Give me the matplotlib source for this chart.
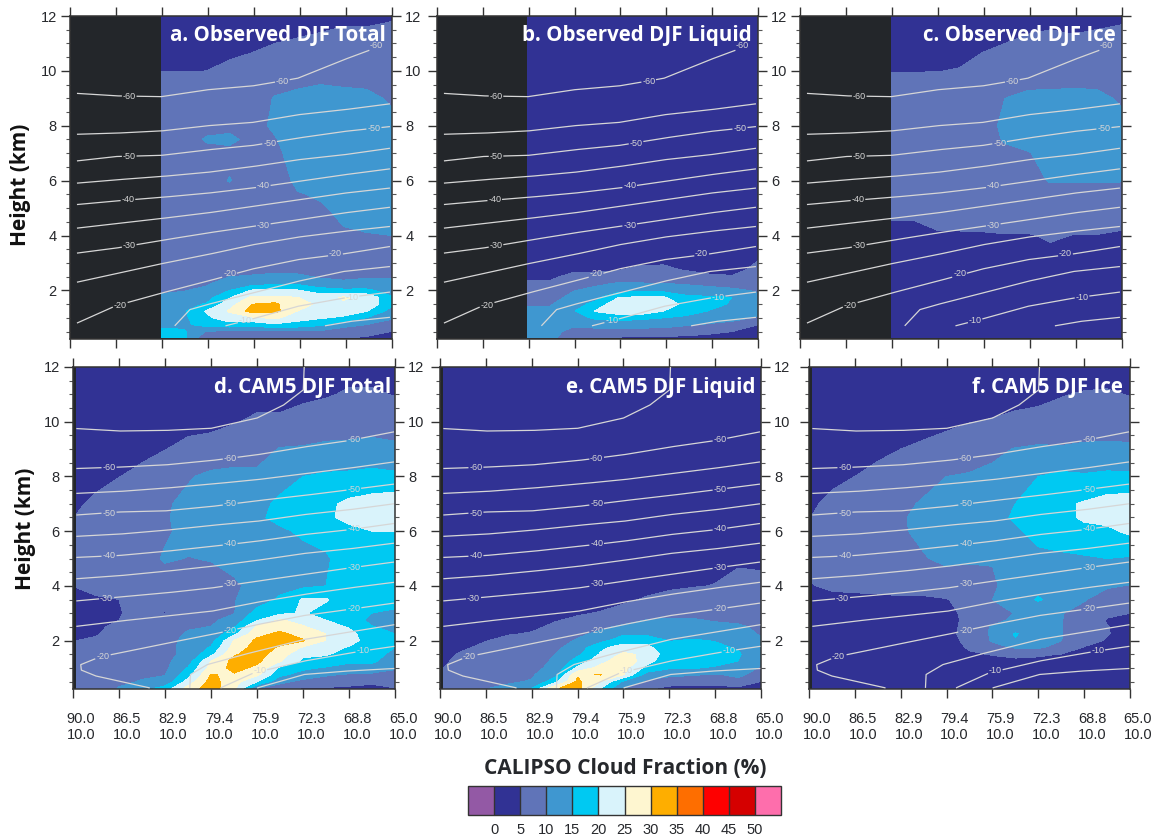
# CALIPSO vs CAM5 DJF cloud fraction cross sections, 6 panels + colour bar

import numpy as np
import matplotlib
matplotlib.use('Agg')
import matplotlib.pyplot as plt
from matplotlib.colors import ListedColormap, BoundaryNorm
from matplotlib.cm import ScalarMappable
from matplotlib.transforms import ScaledTranslation

LEVELS = [0, 5, 10, 15, 20, 25, 30, 35, 40, 45, 50]
COLORS = ['#9359a5', '#313294', '#6074b8', '#3f97d0', '#00c9f2', '#d9f3fb',
          '#fef6d0', '#feae00', '#fe6e00', '#fe0000', '#d50000', '#fe6eac']
XTICK_LABELS = ['90.0\n10.0', '86.5\n10.0', '82.9\n10.0', '79.4\n10.0',
                '75.9\n10.0', '72.3\n10.0', '68.8\n10.0', '65.0\n10.0']

# observed grid: one row per latitude column, one value per height
OBS_LAT = [82.93, 81.14, 79.38, 77.62, 75.85, 74.09, 72.33, 70.57, 68.78, 67.02, 65.0]
OBS_H = [.27, .5, .75, 1, 1.25, 1.5, 1.75, 2, 2.25, 2.5, 2.75, 3, 4, 5, 5.5, 6, 7, 7.5, 8, 9, 10, 11, 12]

OBS_TOTAL = [
    [17, 16, 14, 13, 13, 12, 11, 9, 8, 8, 8, 8, 8, 8, 8, 8, 8, 8, 8, 8, 4.9, 3, 3],
    [16, 15.5, 14, 14, 14.5, 13, 11.5, 9.8, 8.5, 8, 8, 8, 8, 8, 8, 8, 8, 8, 8, 8, 4.9, 3, 3],
    [6, 9.5, 17, 19, 20.5, 15.5, 13, 11, 9.5, 8.5, 8, 8, 8, 8, 8, 8, 8.5, 10.5, 8.5, 8, 5, 3.2, 3],
    [5.5, 9, 18, 23, 25.5, 23, 19.5, 15, 12, 10, 8.5, 8.5, 8, 8, 8.5, 10.2, 9, 10.8, 9, 8, 6, 3.5, 3],
    [5.5, 9, 17, 24, 32, 30, 26, 20.5, 13, 10.5, 8.5, 8.5, 8, 8, 8, 8, 8.5, 9, 9, 8.5, 7, 4, 3],
    [5, 9, 19, 26, 31.5, 31, 26, 20.5, 14, 11, 9, 8.5, 8, 8, 8, 7.5, 9.2, 9.8, 10.5, 10.2, 8, 5, 3],
    [5.2, 9, 18, 22, 25, 26, 25, 20.5, 14, 11, 8.5, 8.5, 8, 8.5, 9.7, 11, 11.5, 11.5, 12, 11, 8, 5.5, 3],
    [5, 9, 16, 20.5, 23, 24.5, 23, 17, 12, 9.5, 8.5, 8.5, 8.5, 9.5, 10.5, 11.5, 12, 12, 12, 11.5, 8.5, 6, 3.5],
    [5, 8.5, 11, 19, 23, 24.5, 25.5, 16, 11, 9, 8.5, 8.5, 9.5, 11, 12, 13, 12, 12, 12, 11, 8.5, 6.5, 4],
    [4.5, 7, 10, 15, 20.5, 24, 24, 16, 11.5, 9.5, 8.5, 8.5, 9.8, 11.5, 12.5, 13.5, 12.5, 12, 12, 11, 8, 6.5, 4],
    [4, 4.9, 8, 10.5, 13, 16, 15.5, 13, 10.5, 9.8, 9, 9, 10, 12, 13, 14.9, 12, 11.5, 11, 9.5, 8, 7, 4.5],
]

OBS_LIQUID = [
    [12, 12, 12, 12, 11, 9.5, 8, 7, 5.5, 4.5, 3.5, 3] + [3] * 11,
    [12, 12, 12, 12, 10.8, 9.7, 8, 7, 5.5, 4.5, 3.5, 3] + [3] * 11,
    [4.8, 8, 11, 12.5, 14.5, 13, 11.5, 9.8, 7.5, 5.8, 4.5, 3] + [3] * 11,
    [4.5, 8.5, 11.5, 16, 20.5, 16.5, 13.5, 11.5, 9, 6, 4.5, 3.5] + [3] * 11,
    [4.5, 8.5, 12, 17, 23, 24, 20, 13, 10.5, 7, 4.8, 3.5] + [3] * 11,
    [4, 8, 12, 16, 24, 24.5, 20.5, 14, 10.2, 8, 6, 4.5] + [3] * 11,
    [4, 8, 11.5, 15, 20, 24, 20.5, 13.5, 10.1, 7, 5.5, 4.8] + [3] * 11,
    [4, 7, 10.5, 14, 17, 18, 16, 12.5, 9.5, 6.5, 4.8, 3.5] + [3] * 11,
    [3.5, 6, 9.5, 12.5, 14.8, 16.5, 15.5, 12, 8.5, 5.5, 4.2, 3.5] + [3] * 11,
    [3, 5, 8.5, 11.5, 13, 14.5, 15, 11, 8, 5.2, 4.2, 3.5] + [3] * 11,
    [3, 3.5, 5, 9.5, 11.5, 12, 11, 9.5, 7.5, 6.5, 5.7, 5.2] + [3] * 11,
]

OBS_ICE = [
    [3] * 11 + [3.5, 3.8, 6, 7, 7, 7, 7, 7, 7, 4.9, 3, 3],
    [3] * 11 + [3.5, 3.8, 6, 7, 7, 7, 7, 7, 7, 4.9, 3, 3],
    [3] * 11 + [3.5, 4.5, 7, 7.5, 7.5, 7.5, 7.5, 8, 8, 4.9, 3, 3],
    [3] * 11 + [3.5, 4.6, 7, 7.5, 8, 8, 8, 8.5, 8.5, 5.2, 3.5, 3],
    [3] * 11 + [3.5, 4.6, 7.5, 8, 8, 8.5, 9, 9, 9, 6, 4.5, 3],
    [3] * 11 + [3.5, 4.8, 8, 8, 8, 9.5, 10.2, 10.5, 10, 7, 5, 3.5],
    [3] * 11 + [3.5, 4.7, 8, 8.5, 9, 9.8, 11, 11.5, 10.8, 8, 5.5, 4],
    [3] * 11 + [3.5, 5.5, 8, 9, 10.2, 11, 11.5, 12, 11, 8, 6, 4],
    [3] * 11 + [3.5, 4.9, 8, 9, 10.2, 11.5, 12, 12, 10.8, 8.5, 5.5, 4],
    [3] * 11 + [3.5, 4.9, 8, 9, 10.2, 12, 12, 12, 11, 8, 6, 4],
    [3] * 11 + [3.5, 4.4, 7.5, 9, 10.1, 12, 11.5, 11, 9.5, 8, 6.5, 4.3],
]

# model grid
CAM_LAT = [89.75, 88.21, 86.43, 84.64, 82.86, 81.07, 79.29, 77.5,
           75.71, 73.93, 72.14, 70.36, 68.57, 66.79, 65.0]
CAM_H = [.25, .5, .75, 1, 1.25, 1.5, 1.75, 2, 2.25, 2.5, 2.75, 3, 3.5, 4, 5, 6, 6.5, 7, 8, 9, 10, 11, 12]

CAM_TOTAL = [
    [5.5, 6, 6, 6, 6, 6, 5.5, 5, 4.5, 4.2, 4, 4, 4.3, 5.1, 6.5, 6, 5.2, 4.3, 3, 3, 3, 3, 3],
    [6, 6.5, 7, 7, 7, 6.5, 6, 5.3, 4.8, 4.4, 4.2, 4.2, 4.6, 6, 7, 7.5, 7, 6, 3.5, 3, 3, 3, 3],
    [10.5, 8.5, 7.5, 7, 7, 7, 7, 6.5, 6, 5.8, 5, 4.8, 5, 6.5, 7.5, 8, 8, 8, 4.9, 3.5, 3, 3, 3],
    [13, 10.5, 9, 8, 8, 8, 8, 8, 7.5, 7, 6.5, 6, 6.5, 7.5, 8.5, 9, 9, 8.5, 6, 4, 3.5, 3, 3],
    [17, 11.5, 9.8, 9, 9, 9, 9, 8.5, 8, 7.5, 7, 4.7, 7, 8, 10.4, 9.5, 9.7, 9.5, 7.5, 4.9, 3.5, 3, 3],
    [27, 22, 18, 15.3, 12.5, 11, 11, 11.2, 10.5, 9.5, 8.5, 8, 8, 8.5, 9.9, 11, 11, 11, 9.6, 6, 3.8, 3, 3],
    [33, 32, 30.2, 27, 25, 18.5, 15.5, 13, 11, 10.1, 9, 8.5, 8.5, 8.5, 10.2, 12, 12, 12, 11, 6.5, 4, 3.3, 3],
    [26, 27, 29.5, 31.5, 31.5, 29.5, 27, 25.3, 18.5, 14.5, 12, 9.8, 9.8, 9.5, 11, 13, 13, 13, 11.5, 7, 4.8, 3.5, 3],
    [10, 20, 26, 29, 31, 32, 32, 31, 28.5, 26, 19.5, 17, 12, 11, 12, 14, 14.5, 13.5, 11, 8, 5.5, 4, 3],
    [7, 11.5, 16, 19, 25.5, 27.5, 29.5, 31.5, 31, 28, 25.5, 19, 16, 13, 12.5, 14.5, 15.8, 16, 13, 10.3, 5.5, 4, 3],
    [4.5, 8.5, 13, 16, 19, 21, 24.5, 30.5, 28, 25.5, 23, 20.5, 20.5, 14, 14, 15.5, 17.5, 18, 15, 10.5, 6.5, 4.2, 3],
    [4.5, 8, 10.5, 14.5, 18, 20.5, 22.5, 24.8, 25, 22.5, 20, 18, 20.5, 15, 14.5, 16.5, 19, 19, 15.7, 11, 7.5, 4.6, 3],
    [4, 7, 9.5, 13, 16, 18, 19.5, 22.5, 22, 19.5, 17, 16, 16, 16, 17, 18.5, 21.5, 21, 16, 11, 8, 5.5, 3.5],
    [3.5, 6, 9, 13, 16, 17, 18, 17, 16, 15.2, 14, 15, 17, 17, 18, 20, 23, 22, 16.5, 11.5, 8, 5.5, 3.5],
    [4.9, 6, 8.5, 10.5, 12, 13.5, 15, 15.5, 15, 14, 13, 14.5, 16, 17, 18, 20, 23, 23, 16, 10.8, 8, 4.8, 3],
]

CAM_LIQUID = [
    [5.2, 5.2, 5.1, 5, 4.5, 4, 3.5, 3, 3, 3, 3, 3] + [3] * 11,
    [6, 6.5, 6.5, 6.5, 6, 5.5, 4.5, 4, 3.5, 3, 3, 3] + [3] * 11,
    [9.9, 8, 7.5, 7, 7, 6.5, 5.8, 4.9, 4, 3.5, 3, 3] + [3] * 11,
    [11, 9.5, 8, 8, 7.5, 7, 6.5, 5.8, 4.8, 4.2, 3.5, 3] + [3] * 11,
    [15, 10.3, 9.5, 9, 8.5, 8, 7.5, 6.5, 5.2, 4.5, 4, 3.5] + [3] * 11,
    [29.5, 18, 13, 11, 10.5, 10, 9, 8, 7, 5.5, 4.8, 4] + [3] * 11,
    [32, 31, 29.5, 21, 17, 14, 12, 10.5, 9, 7, 5.5, 4.7, 3.5] + [3] * 10,
    [20, 25, 30.2, 27, 23, 20.5, 19, 13.5, 11, 9, 7, 5.2, 3.8] + [3] * 10,
    [10, 14, 25, 27, 29, 26, 22, 18, 14, 11, 8, 6, 4.5, 3.5] + [3] * 9,
    [5.5, 9, 13, 18.5, 22, 24, 21.5, 18, 14, 12, 10.1, 8, 5.3, 4] + [3] * 9,
    [4.2, 6.5, 11.5, 15.5, 16.5, 17, 16, 14.8, 13, 12, 10.5, 8.5, 6, 4.5] + [3] * 9,
    [4, 6, 10.5, 15.3, 16.5, 17, 16.5, 15.5, 13, 12, 10.5, 8.5, 6.5, 4.8] + [3] * 9,
    [4, 6, 9.5, 14.5, 16.5, 17, 16, 14.8, 13, 11.5, 9.5, 8, 7, 5.1, 4] + [3] * 8,
    [4, 8.5, 11, 13, 15, 15.5, 14.5, 13, 12, 10.8, 9, 8, 7, 6.5, 4.2] + [3] * 8,
    [4, 4.9, 8, 9.5, 11, 12, 12, 10.8, 9.5, 9, 8, 7.5, 7, 6, 4.2] + [3] * 8,
]

CAM_ICE = [
    [3] * 12 + [3.5, 4.8, 7, 6.5, 5.1, 4.5, 3, 3, 3, 3, 3],
    [3] * 12 + [3.5, 6, 7.5, 8, 7, 6, 4, 3.5, 3, 3, 3],
    [3] * 12 + [4, 6, 8, 8.5, 8, 8, 5, 4, 3.5, 3, 3],
    [3] * 12 + [4, 6.5, 8.5, 9, 8.8, 8.5, 6, 4.2, 3.5, 3, 3],
    [3] * 12 + [4.2, 7, 9, 9.5, 9.6, 9, 7, 5, 3.7, 3, 3],
    [3] * 12 + [4.2, 7, 9.7, 11, 11, 10.5, 8.5, 5.5, 4, 3, 3],
    [3] * 11 + [4, 4.8, 7.5, 11, 12, 11.5, 11, 10, 6.5, 4.2, 3.5, 3],
    [3, 3, 3, 3, 3.5, 4.5, 5.5, 6.5, 7.5, 7, 6.5, 6, 6.5, 8, 10.5, 12, 12, 12, 10.5, 7, 4.9, 3.5, 3],
    [3, 3, 3, 3, 4, 5.2, 8.5, 10.5, 10.5, 10.5, 8.5, 8, 10, 9.5, 10.2, 12, 13, 12.5, 11, 9, 5.2, 3.7, 3],
    [3, 3, 3, 3, 4.2, 6, 10.5, 14.5, 15.5, 11.5, 11, 10.2, 12, 11.5, 12, 14, 15.8, 15, 11.5, 10.2, 5.8, 3.8, 3],
    [3, 3, 3, 3, 4.2, 5.5, 10.8, 13, 11.5, 11, 11, 11, 15.6, 13, 13.5, 17, 17.5, 18, 15, 10.8, 6, 4.2, 3],
    [3, 3, 3, 3, 4.2, 4.9, 8, 10.1, 10.2, 10.2, 10.2, 10.2, 12, 13, 14, 18, 18.5, 19, 16, 10.5, 6.5, 4.8, 3],
    [3, 3, 3, 3, 3.5, 4.3, 4.8, 6.5, 6.5, 7, 7.5, 8.5, 10.3, 12, 14.5, 18.5, 20.8, 20.5, 15.5, 11, 7, 5.3, 3],
    [3, 3, 3, 3, 3, 3.5, 4, 4.7, 5.2, 5.1, 4.8, 5.5, 8, 10.5, 15, 19, 21.5, 22, 16, 11, 7.5, 5.5, 3],
    [3, 3, 3, 3, 3, 3, 3.5, 3.5, 3.8, 4, 4.5, 5, 8, 9.8, 14.5, 21, 22, 22.5, 16, 10.8, 7.5, 4.8, 3],
]

# isotherms as (latitudes, heights in km)
OBS_COLS = [89.46, 86.45, 82.93, 79.38, 75.85, 72.33, 68.78, 65.16]
OBS_ISOTHERMS = [
    ([89.46, 86.45, 82.93, 79.38, 75.85, 72.33, 68.78, 65.67], [9.18, 9.09, 9.06, 9.31, 9.45, 9.73, 10.4, 10.94]),
    (OBS_COLS, [7.69, 7.73, 7.81, 8.0, 8.12, 8.40, 8.58, 8.80]),
    (OBS_COLS, [6.72, 6.88, 6.92, 7.12, 7.28, 7.55, 7.79, 7.97]),
    (OBS_COLS, [5.91, 6.03, 6.15, 6.30, 6.51, 6.76, 6.94, 7.18]),
    (OBS_COLS, [5.13, 5.26, 5.39, 5.54, 5.73, 5.97, 6.21, 6.43]),
    (OBS_COLS, [4.27, 4.43, 4.62, 4.82, 5.06, 5.30, 5.54, 5.73]),
    (OBS_COLS, [3.36, 3.54, 3.82, 4.09, 4.33, 4.57, 4.82, 5.03]),
    (OBS_COLS, [2.30, 2.61, 2.97, 3.30, 3.66, 3.94, 4.15, 4.33]),
    (OBS_COLS, [0.81, 1.44, 1.90, 2.33, 2.78, 3.12, 3.33, 3.60]),
    ([81.87, 80.70, 79.38, 75.85, 72.33, 68.78, 65.16], [.71, 1.30, 1.48, 1.90, 2.33, 2.69, 2.87]),
    ([77.93, 75.85, 72.33, 68.78, 65.16], [.71, .96, 1.42, 1.72, 1.94]),
    ([70.21, 68.26, 65.16], [.71, .87, 1.02]),
]
OBS_LABELS = [
    (85.4, 9.06, '-60'), (85.4, 6.87, '-50'), (85.5, 5.30, '-40'), (85.4, 3.63, '-30'),
    (86.1, 1.45, '-20'), (73.5, 9.60, '-60'), (74.5, 7.36, '-50'), (75.0, 5.81, '-40'),
    (75.0, 4.38, '-30'), (77.6, 2.63, '-20'), (69.4, 3.33, '-20'), (76.4, .91, '-10'),
    (68.1, 1.75, '-10'), (66.2, 10.91, '-60'), (66.4, 7.91, '-50'),
]

CAM_COLS = [89.74, 86.42, 82.85, 79.27, 75.73, 72.15, 68.58, 65.08]
CAM_ISOTHERMS = [
    ([89.74, 86.42, 82.85, 79.27, 75.73, 73.68, 72.12, 72.05], [9.75, 9.66, 9.68, 9.76, 10.13, 10.6, 11.16, 12.0]),
    (CAM_COLS, [8.29, 8.34, 8.42, 8.58, 8.79, 9.07, 9.31, 9.63]),
    (CAM_COLS, [7.38, 7.45, 7.57, 7.72, 7.88, 8.09, 8.30, 8.53]),
    (CAM_COLS, [6.59, 6.70, 6.74, 6.90, 7.11, 7.30, 7.51, 7.72]),
    (CAM_COLS, [5.81, 5.89, 6.03, 6.21, 6.36, 6.60, 6.78, 7.00]),
    (CAM_COLS, [5.04, 5.11, 5.26, 5.44, 5.63, 5.87, 6.05, 6.28]),
    (CAM_COLS, [4.26, 4.37, 4.53, 4.71, 4.93, 5.18, 5.35, 5.56]),
    (CAM_COLS, [3.45, 3.59, 3.74, 3.92, 4.17, 4.41, 4.65, 4.87]),
    (CAM_COLS, [2.52, 2.71, 2.89, 3.07, 3.40, 3.68, 3.92, 4.13]),
    ([84.04, 88.19, 89.35, 89.40, 87.93, 82.85, 79.27, 75.73, 72.15, 68.24, 65.08],
     [.27, .70, .92, 1.12, 1.40, 1.89, 2.22, 2.58, 2.91, 3.16, 3.37]),
    ([80.93, 80.88, 79.59, 76.74, 72.07, 68.96, 65.05], [.27, .76, 1.12, 1.49, 2.04, 2.28, 2.58]),
    ([78.55, 75.96, 72.07, 67.67, 65.05], [.27, .82, 1.25, 1.61, 1.79]),
    ([75.70, 72.07, 68.96, 65.05], [.27, .76, .88, .98]),
]
CAM_LABELS = [
    (87.2, 8.31, '-60'), (77.8, 8.67, '-60'), (68.2, 9.34, '-60'),
    (87.2, 6.63, '-50'), (77.8, 7.0, '-50'), (68.2, 7.54, '-50'),
    (87.2, 5.11, '-40'), (77.8, 5.56, '-40'), (68.2, 6.08, '-40'),
    (87.4, 3.55, '-30'), (77.8, 4.07, '-30'), (68.2, 4.68, '-30'),
    (87.7, 1.40, '-20'), (77.8, 2.36, '-20'), (68.2, 3.17, '-20'),
    (75.5, .91, '-10'), (67.5, 1.64, '-10'),
]

FIG_W, FIG_H = 1151, 839
INK = '#26282c'
SANS = 'Liberation Sans'
BOLD = 'Open Sans'


def add_axes_px(fig, left, top, right, bottom):
    return fig.add_axes([left / FIG_W, 1 - bottom / FIG_H,
                         (right - left) / FIG_W, (bottom - top) / FIG_H])


def draw_isotherms(ax, lines, labels):
    for lats, hts in lines:
        t = np.linspace(0, len(lats) - 1, 500)
        idx = np.arange(len(lats))
        x = np.interp(t, idx, lats)
        y = np.interp(t, idx, hts)
        # leave a gap in the line where a label sits
        for lab_x, lab_y, _ in labels:
            y[(np.abs(x - lab_x) < 0.55) & (np.abs(y - lab_y) < 0.3)] = np.nan
        ax.plot(x, y, color='#d6d6d6', lw=0.9, solid_capstyle='butt', zorder=3)
    for lab_x, lab_y, txt in labels:
        ax.text(lab_x, lab_y, txt, color='#d6d6d6', fontsize=6.5, family=SANS,
                ha='center', va='center', zorder=4)


def panel(fig, box, lat, hts, field, lines, labels, title, title_right, title_y, left=False, right=False, xlabels=False):
    ax = add_axes_px(fig, *box)
    ax.set_facecolor('#23262a')
    values = np.array(field, dtype=float).T
    ax.contourf(lat, hts, values, levels=LEVELS, cmap=CMAP, norm=NORM, extend='both', zorder=1)
    draw_isotherms(ax, lines, labels)
    ax.set_xlim(90, 65)
    ax.set_ylim(0.23, 12)
    ax.set_xticks(np.linspace(90, 65, 8))
    ax.set_yticks([2, 4, 6, 8, 10, 12])
    ax.set_yticks(np.arange(0.5, 12, 0.5), minor=True)
    ax.tick_params(which='major', direction='out', length=6.5, width=1.0, color='#333333',
                   top=True, right=True, left=True, bottom=True,
                   labelleft=left, labelright=right, labelbottom=xlabels,
                   labelsize=10.5, labelcolor=INK, pad=3)
    ax.tick_params(which='minor', direction='out', length=3.2, width=0.8, color='#555555',
                   left=True, right=True)
    ax.set_xticklabels(XTICK_LABELS, family=SANS, fontsize=10.5, linespacing=1.2)
    for lab in ax.get_yticklabels():
        lab.set_family(SANS)
    if xlabels:
        # labels sit a little right of their tick in the original
        shift = ScaledTranslation(8 / 100, -10 / 100, fig.dpi_scale_trans)
        for lab in ax.get_xticklabels():
            lab.set_transform(lab.get_transform() + shift)
    for sp in ax.spines.values():
        sp.set_linewidth(1.1)
        sp.set_color('#333333')
    fig.text(title_right / FIG_W, 1 - title_y / FIG_H, title, color='white', family=BOLD,
             fontweight='bold', fontsize=14.8, ha='right', va='center', zorder=10)
    return ax


CMAP = ListedColormap(COLORS[1:-1])
CMAP.set_under(COLORS[0])
CMAP.set_over(COLORS[-1])
NORM = BoundaryNorm(LEVELS, CMAP.N)

fig = plt.figure(figsize=(FIG_W / 100, FIG_H / 100), dpi=100)

panel(fig, (70, 16, 392, 339), OBS_LAT, OBS_H, OBS_TOTAL, OBS_ISOTHERMS, OBS_LABELS,
      'a. Observed DJF Total', 386, 36, left=True, right=True)
panel(fig, (437, 16, 758, 339), OBS_LAT, OBS_H, OBS_LIQUID, OBS_ISOTHERMS, OBS_LABELS,
      'b. Observed DJF Liquid', 752, 36, right=True)
panel(fig, (800, 16, 1122, 339), OBS_LAT, OBS_H, OBS_ICE, OBS_ISOTHERMS, OBS_LABELS,
      'c. Observed DJF Ice', 1116, 36)
panel(fig, (73, 367, 395, 689), CAM_LAT, CAM_H, CAM_TOTAL, CAM_ISOTHERMS, CAM_LABELS,
      'd. CAM5 DJF Total', 391, 388, left=True, right=True, xlabels=True)
panel(fig, (440, 367, 761, 689), CAM_LAT, CAM_H, CAM_LIQUID, CAM_ISOTHERMS, CAM_LABELS,
      'e. CAM5 DJF Liquid', 755, 388, right=True, xlabels=True)
panel(fig, (809, 367, 1130, 689), CAM_LAT, CAM_H, CAM_ICE, CAM_ISOTHERMS, CAM_LABELS,
      'f. CAM5 DJF Ice', 1123, 388, xlabels=True)

fig.text(21 / FIG_W, 1 - 185 / FIG_H, 'Height (km)', rotation=90, family=BOLD, fontweight='bold',
         fontsize=15, color='#111111', ha='center', va='center')
fig.text(26 / FIG_W, 1 - 529 / FIG_H, 'Height (km)', rotation=90, family=BOLD, fontweight='bold',
         fontsize=15, color='#111111', ha='center', va='center')

# colour bar
cax = add_axes_px(fig, 468, 786, 781, 815)
cb = fig.colorbar(ScalarMappable(norm=NORM, cmap=CMAP), cax=cax, orientation='horizontal',
                  extend='both', extendrect=True, extendfrac='auto', spacing='uniform',
                  drawedges=True, ticks=LEVELS)
cb.ax.tick_params(length=0, labelsize=10.5, labelcolor=INK, pad=6)
for lab in cb.ax.get_xticklabels():
    lab.set_family(SANS)
cb.outline.set_linewidth(1.0)
cb.outline.set_edgecolor('#333333')
cb.dividers.set_color('#333333')
cb.dividers.set_linewidth(1.0)
fig.text(625 / FIG_W, 1 - 769 / FIG_H, 'CALIPSO Cloud Fraction (%)', family=BOLD, fontweight='bold',
         fontsize=15, color=INK, ha='center', va='center')

plt.savefig('out.png', dpi=100)
